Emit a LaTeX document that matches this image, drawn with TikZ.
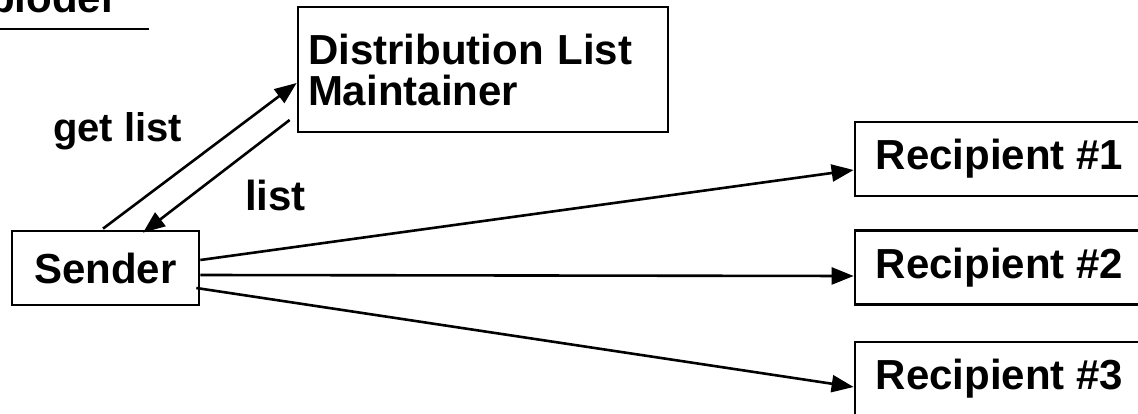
\documentclass[tikz,border=0pt]{standalone}
\usepackage{fontspec}
\setmainfont{Liberation Sans}
\usetikzlibrary{arrows.meta}
\begin{document}
\begin{tikzpicture}[x=1pt,y=1pt,
  every node/.style={font=\fontsize{42}{41}\selectfont\bfseries},
  box/.style={draw, line width=2.7pt, rectangle, inner sep=0pt},
  arr/.style={line width=2.6pt, -{Triangle[length=22pt,width=17pt]}},
  lbl/.style={anchor=base west, inner sep=0pt}]
\useasboundingbox (0,0) rectangle (1138,413);
\clip (0,0) rectangle (1138,413);

% heading, running off the top edge, with its rule
\node[lbl] (ttl) at (-11,400) {ploder};
\coordinate (ula) at (0,384);
\coordinate (ulb) at (149,384);
\draw[line width=2.5pt] (ula) -- (ulb);

% boxes
\node[box, minimum width=187pt, minimum height=74pt] (snd) at (105.5,145) {Sender};
\node[box, text width=350pt, inner xsep=10pt, minimum height=125pt, align=left]
  (dlm) at (483,343.5) {Distribution List\\Maintainer};
\node[box, minimum width=289pt, minimum height=74pt] (r1) at (999.5,254) {Recipient \#1};
\node[box, minimum width=289pt, minimum height=74pt] (r2) at (999.5,145.5) {Recipient \#2};
\node[box, minimum width=289pt, minimum height=74pt] (r3) at (999.5,34) {Recipient \#3};

% list exchange
\draw[arr] ([xshift=-2.5pt,yshift=1pt]snd.north) -- ([yshift=-13.5pt]dlm.west);
\draw[arr] ([xshift=-7pt,yshift=-50.5pt]dlm.west) -- ([xshift=37.5pt,yshift=-3pt]snd.north);
\node[lbl, font=\fontsize{40}{40}\selectfont\bfseries] (getl) at (53,271) {get list};
\node[lbl] (lst) at (245,203) {list};

% fan-out to recipients
\draw[arr] ([yshift=8pt]snd.east) -- ([yshift=-11pt]r1.west);
\draw[arr] ([yshift=-7pt]snd.east) -- ([yshift=-8.5pt]r2.west);
\draw[arr] ([xshift=-4pt,yshift=-20pt]snd.east) -- ([yshift=-8pt]r3.west);
\end{tikzpicture}
\end{document}
